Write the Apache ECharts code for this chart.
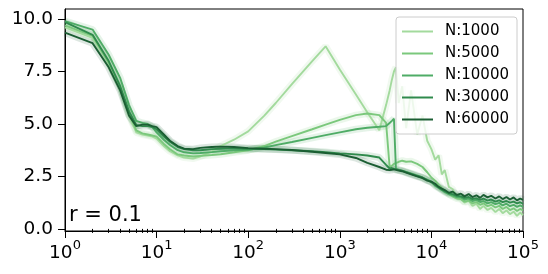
<!DOCTYPE html>
<html>
<head>
<meta charset="utf-8">
<script src="https://cdn.jsdelivr.net/npm/echarts@6/dist/echarts.min.js"></script>
<style>
html,body{margin:0;padding:0;background:#fff;}
#c{width:548px;height:274px;}
</style>
</head>
<body>
<div id="c"></div>
<script>
const xs = [1,2,3,4,5,6,7,8,9,10,12,14,17,20,25,30,40,50,70,100,150,200,300,500,700,1000,1500,2000,2700,3200,3500,3700,3900,4100,4400,4800,5300,6000,7000,8000,9000,10000,
  11000,12000,13000,14000,15500,17000,19000,21000,23000,25500,28000,31000,34000,37000,41000,45000,50000,55000,60000,66000,72000,79000,86000,93000,100000];

const n1000 = [9.6,9.1,7.9,6.8,5.4,4.6,4.5,4.45,4.4,4.3,
  3.95,3.7,3.5,3.4,3.35,3.45,3.7,3.95,4.25,4.65,
  5.4,6.0,6.9,8.0,8.7,7.6,6.4,5.55,4.7,5.9,
  6.6,7.1,7.5,7.7,6.0,6.8,4.8,6.6,4.5,5.4,
  4.2,3.8,
  3.3,3.5,2.6,2.8,2.0,1.9,1.55,1.45,1.25,1.35,1.1,1.2,0.95,1.1,0.9,1.0,0.8,0.95,0.75,0.88,0.7,0.82,0.62,0.78,0.65];

const n5000 = [9.7,9.2,7.9,6.8,5.5,4.7,4.55,4.5,4.45,4.4,
  4.05,3.8,3.55,3.5,3.45,3.48,3.52,3.56,3.65,3.75,
  3.95,4.16,4.42,4.75,4.97,5.2,5.42,5.5,5.42,5.05,
  2.95,3.0,3.1,3.15,3.2,3.25,3.2,3.22,3.1,2.95,
  2.7,2.45,
  2.3,2.1,1.95,1.8,1.65,1.55,1.45,1.42,1.3,1.35,1.22,1.28,1.15,1.22,1.08,1.15,1.02,1.1,0.95,1.05,0.9,0.98,0.85,0.95,0.88];

const n10000 = [9.9,9.5,8.3,7.2,5.9,5.15,5.05,5.0,4.85,4.6,
  4.25,4.0,3.75,3.65,3.6,3.62,3.66,3.7,3.74,3.77,
  3.88,3.99,4.14,4.34,4.47,4.6,4.75,4.82,4.87,4.9,
  5.05,5.15,5.25,2.85,2.8,2.76,2.72,2.65,2.55,2.45,
  2.35,2.25,
  2.05,1.95,1.85,1.75,1.66,1.6,1.52,1.5,1.4,1.44,1.33,1.38,1.28,1.33,1.22,1.28,1.18,1.24,1.12,1.2,1.08,1.15,1.05,1.12,1.05];

const n30000 = [9.85,9.25,8.0,6.8,5.6,4.95,4.9,4.9,4.85,4.75,
  4.4,4.15,3.9,3.8,3.75,3.75,3.8,3.82,3.84,3.82,
  3.8,3.78,3.75,3.7,3.66,3.6,3.55,3.5,3.4,3.05,
  2.88,2.9,2.86,2.84,2.82,2.78,2.7,2.62,2.52,2.45,
  2.33,2.22,
  2.1,1.98,1.88,1.8,1.7,1.66,1.58,1.55,1.48,1.52,1.42,1.46,1.38,1.44,1.35,1.4,1.3,1.36,1.28,1.33,1.25,1.3,1.22,1.27,1.2];

const n60000 = [9.35,8.85,7.7,6.6,5.4,4.9,4.97,4.97,4.9,4.85,
  4.5,4.2,3.95,3.82,3.8,3.86,3.9,3.92,3.9,3.85,
  3.82,3.8,3.76,3.68,3.62,3.55,3.38,3.15,2.95,2.82,
  2.8,2.82,2.84,2.82,2.78,2.75,2.68,2.6,2.5,2.42,
  2.3,2.25,
  2.15,2.0,1.92,1.85,1.72,1.78,1.62,1.68,1.55,1.66,1.52,1.6,1.48,1.62,1.5,1.58,1.45,1.55,1.42,1.52,1.4,1.5,1.36,1.45,1.38];

const seriesNames = ['N:1000','N:5000','N:10000','N:30000','N:60000'];
const seriesValues = [n1000, n5000, n10000, n30000, n60000];
const colors = ['#a3da9d','#7bc87c','#4fac66','#2f8a4c','#1b5e33'];
const yTicks = [0, 2.5, 5, 7.5, 10];
const xMinorTicks = [2,3,4,5,6,7,8,9,20,30,40,50,60,70,80,90,200,300,400,500,600,700,800,900,
  2000,3000,4000,5000,6000,7000,8000,9000,20000,30000,40000,50000,60000,70000,80000,90000];
const annotation = 'r = 0.1';

const FONT = 'DejaVu Sans';
const chart = echarts.init(document.getElementById('c'), null, {renderer:'canvas'});

const series = [];
seriesValues.forEach((ys, k) => {
  const data = xs.map((x, i) => [x, ys[i]]);
  series.push({
    name: seriesNames[k] + ' band', type: 'line', data, symbol: 'none', silent: true,
    xAxisIndex: 0, yAxisIndex: 0, z: 1,
    lineStyle: {color: colors[k], width: 7, opacity: 0.15}
  });
});
seriesValues.forEach((ys, k) => {
  const data = xs.map((x, i) => [x, ys[i]]);
  series.push({
    name: seriesNames[k], type: 'line', data, symbol: 'none', showSymbol: false,
    xAxisIndex: 0, yAxisIndex: 0, z: 3,
    color: colors[k],
    itemStyle: {color: colors[k]},
    lineStyle: {color: colors[k], width: 1.9}
  });
});

chart.setOption({
  animation: false,
  backgroundColor: '#fff',
  grid: {left: 65, right: 25, top: 9, bottom: 43, show: true, borderColor: '#000', borderWidth: 1, containLabel: false},
  xAxis: [{
    type: 'log', logBase: 10, min: 1, max: 100000,
    axisLine: {show: true, onZero: false, lineStyle: {color: '#000', width: 1}},
    axisTick: {show: true, length: 7, lineStyle: {color: '#000', width: 1}},
    splitLine: {show: false},
    axisLabel: {
      margin: 8, color: '#000',
      formatter: function (v) { const e = Math.round(Math.log10(v)); return '{b|10}{s|' + e + '}'; },
      rich: {
        b: {fontFamily: FONT, fontSize: 18.5, color: '#000', verticalAlign: 'bottom', lineHeight: 24},
        s: {fontFamily: FONT, fontSize: 13, color: '#000', verticalAlign: 'top', lineHeight: 24}
      }
    }
  }, {
    // minor ticks: linear axis over log10(x), ticks at log10 of the minor tick values
    type: 'value', min: 0, max: 5, gridIndex: 0, position: 'bottom',
    axisLine: {show: false},
    axisTick: {show: true, length: 4, customValues: xMinorTicks.map(v => Math.log10(v)), lineStyle: {color: '#000', width: 1}},
    axisLabel: {show: false},
    splitLine: {show: false}
  }],
  yAxis: {
    type: 'value', min: -0.1, max: 10.48,
    axisLine: {show: true, onZero: false, lineStyle: {color: '#000', width: 1}},
    axisTick: {show: true, length: 7, customValues: yTicks, lineStyle: {color: '#000', width: 1}},
    splitLine: {show: false},
    axisLabel: {
      customValues: yTicks, margin: 12, color: '#000', fontFamily: FONT, fontSize: 18.5,
      formatter: v => v.toFixed(1)
    }
  },
  legend: {
    data: seriesNames.map(n => ({name: n, icon: 'rect'})),
    orient: 'vertical', right: 31, top: 17,
    itemWidth: 31, itemHeight: 2, itemGap: 7,
    padding: [7, 8, 7, 6],
    backgroundColor: 'rgba(255,255,255,0.8)', borderColor: '#cccccc', borderWidth: 1, borderRadius: 3,
    textStyle: {fontFamily: FONT, fontSize: 15, color: '#000', lineHeight: 15, padding: [0, 0, 0, 7]}
  },
  graphic: [{
    type: 'text', left: 69, top: 205, z: 10,
    style: {text: annotation, font: '21px "DejaVu Sans"', fill: '#000'}
  }],
  series
});
</script>
</body>
</html>
